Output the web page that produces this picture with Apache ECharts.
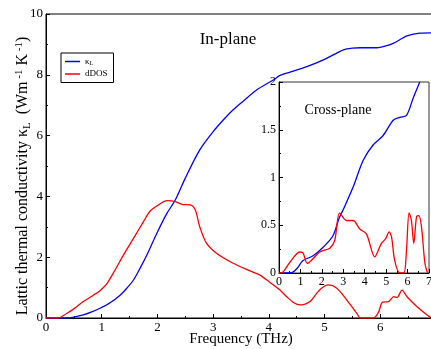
<!DOCTYPE html>
<html>
<head>
<meta charset="utf-8">
<script src="https://cdn.jsdelivr.net/npm/echarts@6/dist/echarts.min.js"></script>
<style>
  html, body { margin: 0; padding: 0; background: #fff; }
  #chart { width: 431px; height: 349px; }
</style>
</head>
<body>
<div id="chart"></div>
<script>
// in-plane (main plot): [frequency THz, value]
const inPlaneKappa = [
  [0, 0], [0.37, 0], [0.5, 0.03], [0.67, 0.1], [0.82, 0.2], [0.97, 0.32], [1.15, 0.5],
  [1.33, 0.75], [1.45, 0.98], [1.57, 1.25], [1.69, 1.64], [1.81, 2.07], [1.99, 2.79],
  [2.17, 3.44], [2.32, 3.88], [2.5, 4.6], [2.76, 5.53], [3.0, 6.13], [3.21, 6.57],
  [3.36, 6.85], [3.55, 7.15], [3.78, 7.5], [4.08, 7.83], [4.2, 7.98], [4.44, 8.12],
  [4.68, 8.27], [4.98, 8.49], [5.34, 8.82], [5.5, 8.88], [5.64, 8.89], [5.94, 8.89],
  [6.1, 8.95], [6.24, 9.04], [6.48, 9.28], [6.71, 9.37], [7, 9.38]
];
const inPlaneDos = [
  [0, 0], [0.22, 0], [0.37, 0.15], [0.5, 0.3], [0.67, 0.54], [0.85, 0.75], [0.97, 0.9],
  [1.1, 1.15], [1.24, 1.58], [1.39, 2.07], [1.57, 2.62], [1.75, 3.17], [1.87, 3.52],
  [2.02, 3.72], [2.17, 3.86], [2.32, 3.83], [2.44, 3.74], [2.59, 3.72], [2.68, 3.55],
  [2.76, 3.0], [2.88, 2.46], [3.06, 2.13], [3.36, 1.8], [3.66, 1.55], [3.84, 1.41],
  [4.02, 1.17], [4.2, 0.92], [4.32, 0.7], [4.45, 0.5], [4.56, 0.43], [4.65, 0.46],
  [4.74, 0.54], [4.92, 0.94], [5.07, 1.09], [5.22, 0.98], [5.4, 0.59], [5.58, 0.15],
  [5.64, 0], [5.88, 0], [5.97, 0.2], [6.04, 0.52], [6.15, 0.54], [6.24, 0.7],
  [6.3, 0.67], [6.39, 0.92], [6.48, 0.7], [6.66, 0.37], [6.84, 0.1], [6.92, 0]
];

// cross-plane (inset)
const crossKappa = [
  [0, 0], [0.4, 0], [0.65, 0.01], [0.85, 0.05], [1.12, 0.13], [1.59, 0.18], [2.06, 0.27],
  [2.52, 0.39], [2.8, 0.57], [2.99, 0.66], [3.46, 0.9], [3.93, 1.18], [4.39, 1.34],
  [4.86, 1.44], [5.33, 1.6], [5.64, 1.63], [5.95, 1.65], [6.26, 1.83], [6.57, 2.0]
];
const crossDos = [
  [0, 0], [0.1, 0], [0.5, 0.11], [0.97, 0.22], [1.12, 0.21], [1.32, 0.1], [1.59, 0.15],
  [1.9, 0.22], [2.37, 0.26], [2.6, 0.34], [2.83, 0.63], [3.15, 0.55], [3.46, 0.55],
  [3.77, 0.46], [4.08, 0.41], [4.47, 0.17], [4.78, 0.31], [4.98, 0.36], [5.14, 0.43],
  [5.25, 0.38], [5.4, 0.13], [5.64, 0], [5.83, 0], [5.95, 0.24], [6.07, 0.63],
  [6.18, 0.55], [6.29, 0.31], [6.42, 0.59], [6.53, 0.6], [6.65, 0.48], [6.81, 0.1],
  [6.93, 0]
];

const mainYTicks = [0, 2, 4, 6, 8, 10];
const insetYTicks = [0, 0.5, 1, 1.5, 2];

const serif = "Liberation Serif";
const blue = "#0000ff";
const red = "#ff0000";

function axisCommon(fontSize) {
  return {
    axisLine: { show: true, lineStyle: { color: "#000", width: 1 } },
    axisTick: { show: true, inside: true, length: 4, lineStyle: { color: "#000" } },
    minorTick: { show: true, splitNumber: 2, length: 2, lineStyle: { color: "#000" } },
    axisLabel: { color: "#000", fontFamily: serif, fontSize: fontSize, margin: 3 },
    splitLine: { show: false },
  };
}

const chart = echarts.init(document.getElementById("chart"));
chart.setOption({
  animation: false,
  grid: [
    { left: 46, top: 14, right: -5, bottom: 31, show: true, borderColor: "#000", borderWidth: 1, outerBoundsMode: "none" },
    { left: 279, top: 82, width: 150, height: 191, show: true, borderColor: "#333", borderWidth: 1, outerBoundsMode: "none" },
  ],
  xAxis: [
    {
      gridIndex: 0, type: "value", min: 0, max: 7, interval: 1,
      ...axisCommon(13),
      name: "Frequency (THz)", nameLocation: "middle", nameGap: 14, nameMoveOverlap: false,
      nameTextStyle: { fontFamily: serif, fontSize: 15, color: "#000" },
    },
    { gridIndex: 1, type: "value", min: 0, max: 7, interval: 1, ...axisCommon(12) },
  ],
  yAxis: [
    {
      gridIndex: 0, type: "value", min: 0, max: 10, interval: 2,
      ...axisCommon(13),
      axisLabel: {
        color: "#000", fontFamily: serif, fontSize: 13, margin: 3,
        formatter: (v) => (mainYTicks.includes(v) ? String(v) : ""),
      },
    },
    {
      gridIndex: 1, type: "value", min: 0, max: 2, interval: 0.5,
      ...axisCommon(12),
      axisLabel: {
        color: "#000", fontFamily: serif, fontSize: 12, margin: 3,
        formatter: (v) => (insetYTicks.includes(v) ? String(v) : ""),
      },
    },
  ],
  legend: {
    left: 61, top: 53, orient: "vertical",
    data: ["kL", "dDOS"],
    icon: "rect", itemWidth: 15, itemHeight: 1.5, itemGap: 3,
    padding: [4, 6, 4, 4],
    borderColor: "#000", borderWidth: 1,
    textStyle: {
      fontFamily: serif, fontSize: 9, color: "#000",
      rich: { s: { fontFamily: serif, fontSize: 6, verticalAlign: "bottom", padding: [4, 0, 0, 0] } },
    },
    formatter: (n) => (n === "kL" ? "κ{s|L}" : n),
  },
  graphic: [
    {
      type: "text", x: 228, y: 40,
      style: { text: "In-plane", font: "17px 'Liberation Serif'", fill: "#000", align: "center", verticalAlign: "middle" },
    },
    {
      type: "text", x: 338, y: 110,
      style: { text: "Cross-plane", font: "14px 'Liberation Serif'", fill: "#000", align: "center", verticalAlign: "middle" },
    },
    {
      type: "text", x: 23, y: 176, rotation: Math.PI / 2,
      style: {
        text: "Lattic thermal conductivity κ{s|L}  (Wm{p| -1} K{p| -1})",
        font: "16px 'Liberation Serif'", fill: "#000", align: "center", verticalAlign: "middle",
        rich: {
          s: { fontFamily: serif, fontSize: 11, padding: [8, 0, 0, 0] },
          p: { fontFamily: serif, fontSize: 11, padding: [0, 0, 8, 0] },
        },
      },
    },
  ],
  series: [
    { name: "kL", type: "line", xAxisIndex: 0, yAxisIndex: 0, data: inPlaneKappa, smooth: 0.3, showSymbol: false, lineStyle: { color: blue, width: 1.3 }, itemStyle: { color: blue } },
    { name: "dDOS", type: "line", xAxisIndex: 0, yAxisIndex: 0, data: inPlaneDos, smooth: 0.3, showSymbol: false, lineStyle: { color: red, width: 1.3 }, itemStyle: { color: red } },
    { name: "kL cross", type: "line", xAxisIndex: 1, yAxisIndex: 1, data: crossKappa, smooth: 0.3, showSymbol: false, lineStyle: { color: blue, width: 1.3 }, itemStyle: { color: blue } },
    { name: "dDOS cross", type: "line", xAxisIndex: 1, yAxisIndex: 1, data: crossDos, smooth: 0.3, showSymbol: false, lineStyle: { color: red, width: 1.3 }, itemStyle: { color: red } },
  ],
});
</script>
</body>
</html>
